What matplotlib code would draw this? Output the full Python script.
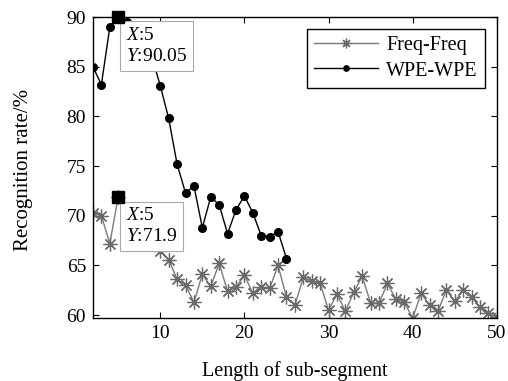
import numpy as np
import matplotlib
matplotlib.use("Agg")
import matplotlib.pyplot as plt

plt.rcParams['font.family'] = ['Liberation Serif', 'DejaVu Serif']
plt.rcParams['mathtext.fontset'] = 'custom'
plt.rcParams['mathtext.rm'] = 'Liberation Serif'
plt.rcParams['mathtext.it'] = 'Liberation Serif:italic'

# sub-segment length
x_freq = list(range(2, 51))
x_wpe = list(range(2, 26))

# recognition rate (%)
freq = [70.3, 70.0, 67.2, 71.9, 70.5, 69.5, 68.5, 67.5, 66.5,
        65.6, 63.6, 63.0, 61.3, 64.1, 62.9, 65.2, 62.4, 62.8, 64.0,
        62.2, 62.8, 62.7, 65.0, 61.8, 61.0, 63.8, 63.4, 63.2, 60.5,
        62.1, 60.4, 62.3, 63.9, 61.2, 61.2, 63.2, 61.6, 61.3, 59.7,
        62.2, 61.0, 60.4, 62.5, 61.4, 62.5, 61.8, 60.8, 60.2, 59.8]
wpe = [85.0, 83.2, 89.0, 90.05, 89.5, 88.5, 87.0, 86.0, 83.1,
       79.8, 75.2, 72.3, 73.0, 68.8, 71.9, 71.1, 68.2, 70.6, 72.0,
       70.3, 68.0, 67.9, 68.4, 65.7]

tip_x = [5, 5]
tip_y = [90.05, 71.9]
tip_text = ["$\\mathit{X}$:5\n$\\mathit{Y}$:90.05", "$\\mathit{X}$:5\n$\\mathit{Y}$:71.9"]

fig = plt.figure(figsize=(5.08, 3.81), dpi=100)
ax = fig.add_axes([0.183, 0.165, 0.795, 0.79])

ax.plot(x_freq, freq, color='#7a7a7a', lw=1, marker=(8, 2, 0), ms=10,
        mec='#6a6a6a', mew=0.9, label='Freq-Freq')
ax.plot(x_wpe, wpe, color='black', lw=1, marker='o', ms=5.5,
        mfc='black', mec='black', label='WPE-WPE')

# data tips
ax.plot(tip_x, tip_y, ls='none', marker='s', ms=9, color='black', zorder=6, clip_on=False)
for tx, ty, txt in zip([5.9, 5.9], [89.0, 70.85], tip_text):
    ax.text(tx, ty, txt, ha='left', va='top', fontsize=14, zorder=5,
            linespacing=1.3,
            bbox=dict(boxstyle='square,pad=0.3', fc='white', ec='#aaaaaa', lw=0.8))

ax.set_xlim(2, 50)
ax.set_ylim(59.7, 90)
ax.set_xticks([10, 20, 30, 40, 50])
ax.set_yticks([60, 65, 70, 75, 80, 85, 90])
ax.tick_params(direction='in', top=True, right=True, labelsize=14, length=4, pad=5)
for s in ax.spines.values():
    s.set_linewidth(1)

ax.set_xlabel('Length of sub-segment', fontsize=14.5, labelpad=14)
ax.set_ylabel('Recognition rate/%', fontsize=15)
ax.yaxis.set_label_coords(-0.148, 0.494)

leg = ax.legend(loc='upper right', fontsize=14.5, handlelength=3.2, fancybox=False,
                edgecolor='black', framealpha=1, borderaxespad=0.6, markerscale=0.7,
                borderpad=0.35, labelspacing=0.3, handletextpad=0.4)
leg.get_frame().set_linewidth(1)

fig.savefig('out.png', dpi=100)
